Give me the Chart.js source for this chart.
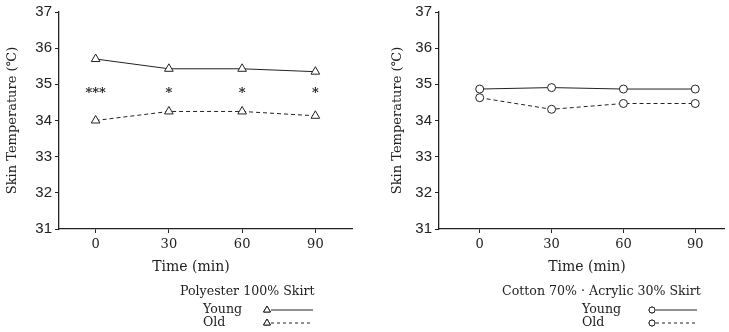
<!DOCTYPE html>
<html>
<head>
<meta charset="utf-8">
<script src="https://cdn.jsdelivr.net/npm/chart.js@4/dist/chart.umd.min.js"></script>
<style>
    body { margin: 0; background: #fff; }
    .panel { position: absolute; top: 0; }
</style>
</head>
<body>
<div class="panel" style="left:0"><canvas id="left" width="364" height="332"></canvas></div>
<div class="panel" style="left:370px"><canvas id="right" width="359" height="332"></canvas></div>
<script>
const times = [0, 30, 60, 90];
const tempTicks = [31, 32, 33, 34, 35, 36, 37];

/* Polyester 100% skirt */
const polyYoung = [35.70, 35.43, 35.43, 35.35];
const polyOld = [34.00, 34.25, 34.25, 34.13];
const polySig = ["***", "*", "*", "*"];
const sigLevel = 34.83;

/* Cotton 70% / Acrylic 30% skirt */
const cottonYoung = [34.87, 34.91, 34.87, 34.87];
const cottonOld = [34.63, 34.31, 34.47, 34.47];

const ink = "#222";
const serif = { family: "DejaVu Serif", size: 13 };

function points(values) {
    return times.map((t, i) => ({ x: t, y: values[i] }));
}

/* draws the x title, significance stars and the little legend under each panel */
const extras = {
    id: "extras",
    afterDatasetsDraw(chart, args, opts) {
        const ctx = chart.ctx;
        const xs = chart.scales.x;
        const ys = chart.scales.y;
        ctx.save();
        ctx.fillStyle = ink;
        ctx.strokeStyle = ink;

        ctx.font = "14px 'DejaVu Serif'";
        ctx.textAlign = "center";
        ctx.textBaseline = "middle";
        ctx.fillText("Time (min)", opts.xTitleX, 267);

        if (opts.sig) {
            ctx.font = "bold 13px 'DejaVu Serif'";
            opts.sig.forEach((s, i) => {
                ctx.fillText(s, xs.getPixelForValue(times[i]), ys.getPixelForValue(sigLevel) + 3);
            });
        }

        const lg = opts.legend;
        ctx.font = "12.6px 'DejaVu Serif'";
        ctx.textAlign = "left";
        ctx.fillText(lg.title, lg.titleX, 292);
        ["Young", "Old"].forEach((name, i) => {
            const y = 310 + i * 13;
            ctx.fillText(name, lg.labelX, y);
            ctx.lineWidth = 1;
            ctx.setLineDash(i === 0 ? [] : [3, 3]);
            ctx.beginPath();
            ctx.moveTo(lg.markX + 4, y);
            ctx.lineTo(lg.lineEnd, y);
            ctx.stroke();
            ctx.setLineDash([]);
            Chart.helpers.drawPoint(ctx, {
                pointStyle: lg.style, radius: lg.style === "circle" ? 3 : 4, borderWidth: 1
            }, lg.markX, y);
            ctx.fillStyle = "#fff";
            ctx.fill();
            ctx.stroke();
            ctx.fillStyle = ink;
        });
        ctx.restore();
    }
};

function makeChart(id, young, old, style, cfg) {
    const dataset = (label, values, dash) => ({
        label,
        data: points(values),
        borderColor: ink,
        borderWidth: 1,
        borderDash: dash,
        pointStyle: style,
        pointRadius: style === "circle" ? 4 : 5,
        pointBorderWidth: 1,
        pointBorderColor: ink,
        pointBackgroundColor: "#fff",
        tension: 0
    });

    return new Chart(document.getElementById(id), {
        type: "line",
        data: {
            datasets: [
                dataset("Young", young, []),
                dataset("Old", old, [4, 3])
            ]
        },
        options: {
            responsive: false,
            animation: false,
            devicePixelRatio: 1,
            layout: { padding: { top: 11, bottom: 53, left: cfg.padLeft, right: cfg.padRight } },
            plugins: {
                legend: { display: false },
                tooltip: { enabled: false },
                extras: { sig: cfg.sig, legend: cfg.legend, xTitleX: cfg.xTitleX }
            },
            scales: {
                x: {
                    type: "linear",
                    min: cfg.xMin,
                    max: cfg.xMax,
                    afterBuildTicks: (s) => { s.ticks = times.map(v => ({ value: v })); },
                    afterFit: (s) => { s.height = 50; },
                    ticks: { color: ink, font: serif, padding: 4 },
                    grid: { drawOnChartArea: false, tickLength: 4, color: ink },
                    border: { color: ink, width: 1.3 }
                },
                y: {
                    min: 31,
                    max: 37,
                    afterBuildTicks: (s) => { s.ticks = tempTicks.map(v => ({ value: v })); },
                    afterFit: (s) => { s.width = cfg.axisWidth; },
                    ticks: { color: ink, font: { family: "Liberation Sans", size: 15 }, padding: 3 },
                    grid: { drawOnChartArea: false, tickLength: 4, color: ink },
                    border: { color: ink, width: 1.3 },
                    title: { display: true, text: "Skin Temperature (℃)", color: ink, font: serif, padding: { top: 5, bottom: 0 } }
                }
            }
        },
        plugins: [extras]
    });
}

makeChart("left", polyYoung, polyOld, "triangle", {
    padLeft: 0, padRight: 12, axisWidth: 59, xMin: -15, xMax: 105, xTitleX: 191,
    sig: polySig,
    legend: { title: "Polyester 100% Skirt", titleX: 180, labelX: 203, markX: 267, lineEnd: 313, style: "triangle" }
});

makeChart("right", cottonYoung, cottonOld, "circle", {
    padLeft: 15, padRight: 1, axisWidth: 54, xMin: -17, xMax: 102, xTitleX: 217,
    sig: null,
    legend: { title: "Cotton 70% · Acrylic 30% Skirt", titleX: 132, labelX: 212, markX: 282, lineEnd: 327, style: "circle" }
});
</script>
</body>
</html>
